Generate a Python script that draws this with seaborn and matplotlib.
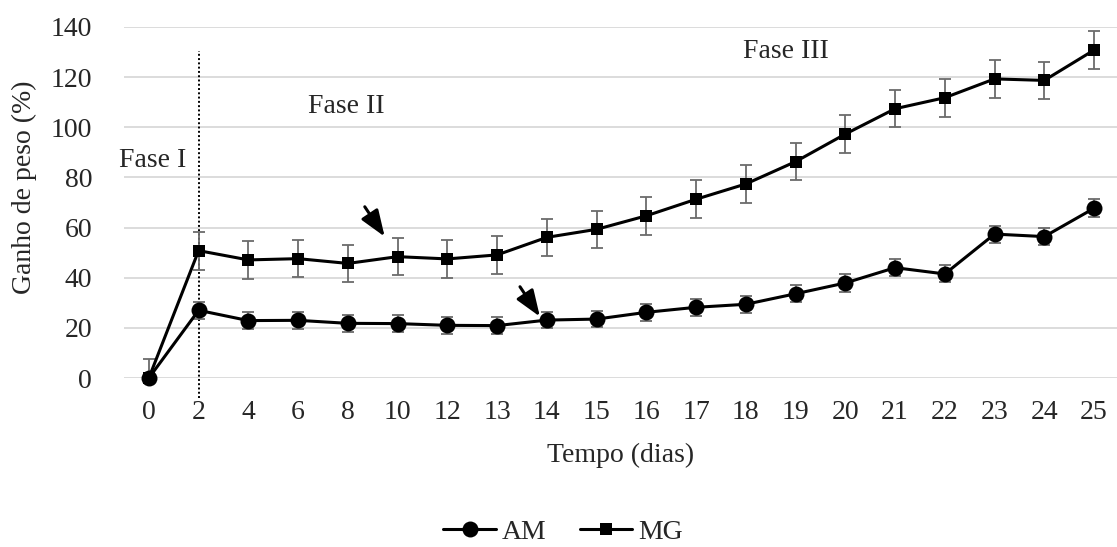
import numpy as np
import pandas as pd
import matplotlib
matplotlib.use("Agg")
import matplotlib.pyplot as plt
from matplotlib.lines import Line2D
import seaborn as sns

# Sampling days (categorical axis)
days = ["0", "2", "4", "6", "8", "10", "12", "13", "14", "15",
        "16", "17", "18", "19", "20", "21", "22", "23", "24", "25"]

# Mean weight gain (%) per group
am_mean = [0.0, 27.0, 22.9, 23.0, 21.8, 21.7, 21.0, 20.9, 23.1, 23.5,
           26.2, 28.2, 29.4, 33.6, 37.9, 44.0, 41.5, 57.4, 56.4, 67.7]
mg_mean = [0.0, 50.8, 47.1, 47.6, 45.7, 48.4, 47.5, 49.1, 56.1, 59.3,
           64.7, 71.3, 77.4, 86.3, 97.3, 107.4, 111.8, 119.3, 118.7, 130.8]

# Error bar half-widths
am_err = [1.5, 3.3, 3.4, 3.3, 3.3, 3.3, 3.3, 3.3, 3.3, 3.3,
          3.3, 3.3, 3.3, 3.4, 3.4, 3.4, 3.4, 3.4, 3.4, 3.6]
mg_err = [7.5, 7.6, 7.5, 7.5, 7.4, 7.5, 7.5, 7.5, 7.4, 7.4,
          7.5, 7.5, 7.5, 7.5, 7.5, 7.4, 7.5, 7.5, 7.5, 7.6]

groups = ["AM", "MG"]
phase_labels = ["Fase I", "Fase II", "Fase III"]

sns.set_theme(style="whitegrid")
plt.rcParams["font.family"] = ["Liberation Serif", "DejaVu Serif"]
plt.rcParams["font.size"] = 20

pos = np.arange(len(days))
df = pd.DataFrame({
    "pos": np.concatenate([pos, pos]),
    "ganho": am_mean + mg_mean,
    "err": am_err + mg_err,
    "grupo": [groups[0]] * len(days) + [groups[1]] * len(days),
})

fig = plt.figure(figsize=(11.17, 5.47), dpi=100)
ax = fig.add_axes([124 / 1117, 1 - 378 / 547, 1 - 124 / 1117, (378 - 27) / 547])

marker_of = {"AM": "o", "MG": "s"}
size_of = {"AM": 11.5, "MG": 8.6}

for g in groups:
    sub = df[df["grupo"] == g]
    # error bars underneath the line
    ax.errorbar(sub["pos"], sub["ganho"], yerr=sub["err"], fmt="none",
                ecolor="#6b6b6b", elinewidth=1.3, capsize=4.5, capthick=1.3,
                zorder=2)
    sns.lineplot(data=sub, x="pos", y="ganho", color="black",
                 marker=marker_of[g], markersize=size_of[g],
                 markeredgewidth=0, linewidth=2.2, ax=ax, zorder=3,
                 clip_on=False)

ax.set_xlim(-0.5, (1117 - 149) / 49.74)
ax.set_ylim(0, 140)
ax.set_yticks(np.arange(0, 141, 20))
ax.set_xticks(pos)
ax.set_xticklabels(days)
ax.grid(axis="y", color="#d9d9d9", linewidth=1.3)
ax.grid(axis="x", visible=False)
for s in ax.spines.values():
    s.set_visible(False)
ax.tick_params(axis="y", length=0, pad=23, labelsize=20)
ax.tick_params(axis="x", length=0, pad=16, labelsize=20)

ax.set_xlabel("Tempo (dias)", fontsize=20)
ax.xaxis.set_label_coords(0.5, -0.185)
ax.set_ylabel("Ganho de peso (%)", fontsize=20)
ax.yaxis.set_label_coords(-0.088, 0.543)

# phase separator
ax.axvline(1, ymin=-8 / 140, ymax=130.4 / 140, color="black",
           linestyle=(0, (1, 1.2)), linewidth=1.4, clip_on=False, zorder=1)

# phase labels
ax.text(0.08, 86.6, phase_labels[0], ha="center", va="center", fontsize=20)
ax.text(3.97, 108.1, phase_labels[1], ha="center", va="center", fontsize=20)
ax.text(12.8, 130.4, phase_labels[2], ha="center", va="center", fontsize=20)

# arrows
arrow = dict(arrowstyle="-|>,head_length=0.8,head_width=0.3",
             color="black", lw=2.2, shrinkA=0, shrinkB=0)
ax.annotate("", xy=(4.74, 56.4), xytext=(4.34, 68.3), arrowprops=arrow)
ax.annotate("", xy=(7.86, 24.5), xytext=(7.46, 36.4), arrowprops=arrow)

# legend
handles = [Line2D([], [], color="black", lw=2.2, marker="o",
                  markersize=size_of["AM"], markeredgewidth=0),
           Line2D([], [], color="black", lw=2.2, marker="s",
                  markersize=size_of["MG"], markeredgewidth=0)]
fig.legend(handles, groups, loc="center", bbox_to_anchor=(563 / 1117, 1 - 532 / 547),
           ncol=2, frameon=False, fontsize=20, handlelength=1.9,
           handletextpad=0.2, columnspacing=1.2)

fig.savefig("out.png", dpi=100)
